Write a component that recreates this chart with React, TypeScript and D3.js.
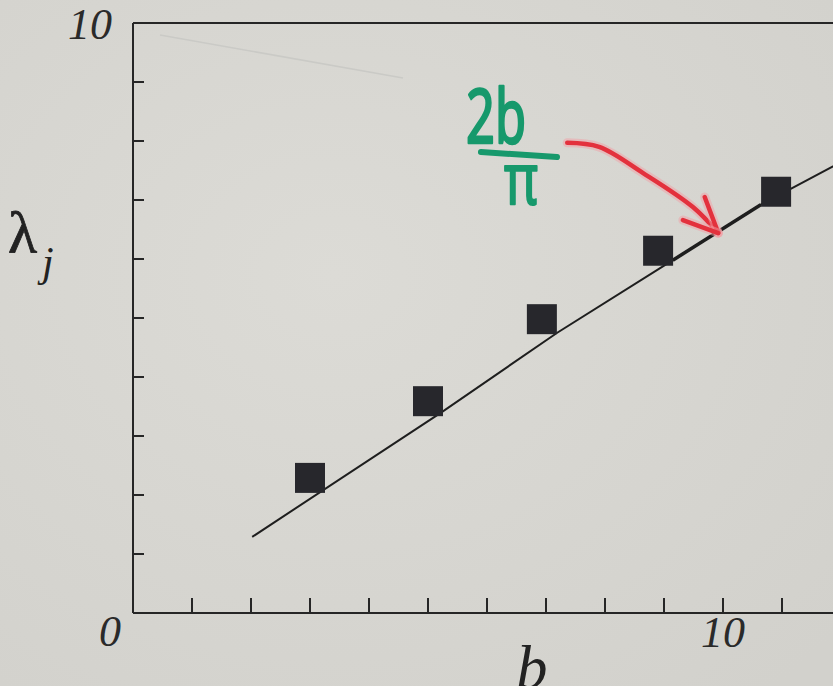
import React from "react";
import * as d3 from "d3";

// Measured eigenvalues λ_j against b
const bValues = [3, 5, 6.93, 8.9, 10.9];
const lambdaValues = [2.29, 3.59, 4.98, 6.14, 7.14];

// Reference curve (2b/π) sampled along its length
const curveB = [2.02, 5.24, 7.19, 9.15, 10.64, 12.2];
const curveLambda = [1.29, 3.41, 4.75, 5.98, 6.92, 7.75];

// Tick positions and labels
const xTicks = [1, 2, 3, 4, 5, 6, 7, 8, 9, 10, 11];
const yTicks = [1, 2, 3, 4, 5, 6, 7, 8, 9];
const xTickLabels = [10];

// Hand-drawn arrow path (in data units) pointing at the curve
const arrowB = [7.36, 7.9, 8.64, 9.49, 9.92];
const arrowLambda = [7.97, 7.9, 7.46, 6.88, 6.44];

const W = 833;
const H = 686;

export default function App() {
  const x = d3.scaleLinear().domain([0, 12]).range([133, 841]);
  const y = d3.scaleLinear().domain([0, 10]).range([613, 23]);

  const curvePts: [number, number][] = curveB.map((b, i) => [b, curveLambda[i]]);
  const line = d3
    .line<[number, number]>()
    .x((d) => x(d[0]))
    .y((d) => y(d[1]));

  const arrowPts: [number, number][] = arrowB.map((b, i) => [b, arrowLambda[i]]);
  const arrowLine = d3
    .line<[number, number]>()
    .x((d) => x(d[0]))
    .y((d) => y(d[1]))
    .curve(d3.curveCatmullRom.alpha(0.5));

  const tip = arrowPts[arrowPts.length - 1];
  const barbs: [number, number][][] = [
    [[9.69, 7.05], tip],
    [[9.32, 6.66], tip],
  ];

  const inked = curvePts.filter((p) => p[0] >= 9.15 && p[0] <= 10.64);

  const sq = 30;
  const serif = "'Liberation Serif', 'Times New Roman', serif";
  const marker = "'Noto Sans', 'DejaVu Sans', sans-serif";

  return (
    <svg
      width={W}
      height={H}
      style={{ position: "absolute", left: 0, top: 0 }}
      viewBox={`0 0 ${W} ${H}`}
    >
      <defs>
        <radialGradient id="paper" cx="40%" cy="40%" r="80%">
          <stop offset="0%" stopColor="#dcdbd6" />
          <stop offset="100%" stopColor="#d2d1cc" />
        </radialGradient>
      </defs>
      <rect x={0} y={0} width={W} height={H} fill="url(#paper)" />

      {/* faint show-through line on the page */}
      <path d="M160,35 L403,78" stroke="#cacac6" strokeWidth={1.5} fill="none" />

      {/* frame: top border, left and bottom axes */}
      <line x1={x(0)} x2={W} y1={y(10)} y2={y(10)} stroke="#262626" strokeWidth={2} />
      <line x1={x(0)} x2={x(0)} y1={y(10)} y2={y(0)} stroke="#262626" strokeWidth={2} />
      <line x1={x(0)} x2={W} y1={y(0)} y2={y(0)} stroke="#262626" strokeWidth={2} />

      {yTicks.map((t) => (
        <line key={"yt" + t} x1={x(0)} x2={x(0) + 11} y1={y(t)} y2={y(t)} stroke="#262626" strokeWidth={2} />
      ))}
      {xTicks.map((t) => (
        <line key={"xt" + t} x1={x(t)} x2={x(t)} y1={y(0)} y2={y(0) - 15} stroke="#262626" strokeWidth={2} />
      ))}

      {/* axis labels */}
      <text x={x(0) - 12} y={y(0) + 33} fontFamily={serif} fontStyle="italic" fontSize={44} textAnchor="end" fill="#2a2a2a">0</text>
      <text x={x(0) - 21} y={y(10) + 16} fontFamily={serif} fontStyle="italic" fontSize={44} textAnchor="end" fill="#2a2a2a">10</text>
      {xTickLabels.map((t) => (
        <text key={"xl" + t} x={x(t)} y={y(0) + 34} fontFamily={serif} fontStyle="italic" fontSize={44} textAnchor="middle" fill="#2a2a2a">{t}</text>
      ))}
      <text x={532} y={688} fontFamily={serif} fontStyle="italic" fontSize={62} textAnchor="middle" fill="#222">b</text>
      <text x={8} y={253} fontFamily={serif} fontSize={60} fill="#222" stroke="#222" strokeWidth={0.8}>λ</text>
      <text x={42} y={276} fontFamily={serif} fontStyle="italic" fontSize={42} fill="#222">j</text>

      {/* reference curve */}
      <path d={line(curvePts) || ""} fill="none" stroke="#1e1e1e" strokeWidth={2} />
      <path d={line(inked) || ""} fill="none" stroke="#1e1e1e" strokeWidth={3.5} />

      {/* data squares */}
      {bValues.map((b, i) => (
        <rect
          key={"s" + i}
          x={x(b) - sq / 2}
          y={y(lambdaValues[i]) - sq / 2}
          width={sq}
          height={sq}
          fill="#27272c"
        />
      ))}

      {/* red arrow */}
      <g fill="none" strokeLinecap="round" strokeLinejoin="round">
        <path d={arrowLine(arrowPts) || ""} stroke="#f2a0a6" strokeWidth={9} opacity={0.5} />
        <path d={arrowLine(arrowPts) || ""} stroke="#e3313d" strokeWidth={4.5} />
        {barbs.map((bb, i) => (
          <g key={"b" + i}>
            <path d={line(bb) || ""} stroke="#f2a0a6" strokeWidth={9} opacity={0.5} />
            <path d={line(bb) || ""} stroke="#e3313d" strokeWidth={4.5} />
          </g>
        ))}
      </g>

      {/* green annotation 2b/π */}
      <g fill="#17996c" stroke="#17996c" strokeLinejoin="round">
        <text
          x={466}
          y={143}
          fontFamily={marker}
          fontSize={74}
          strokeWidth={2.5}
          textLength={60}
          lengthAdjust="spacingAndGlyphs"
        >
          2b
        </text>
        <line x1={481} y1={152} x2={557} y2={157} strokeWidth={6} strokeLinecap="round" />
        <text
          x={521}
          y={204}
          fontFamily={marker}
          fontSize={72}
          strokeWidth={2}
          textAnchor="middle"
          textLength={34}
          lengthAdjust="spacingAndGlyphs"
        >
          π
        </text>
      </g>
    </svg>
  );
}
